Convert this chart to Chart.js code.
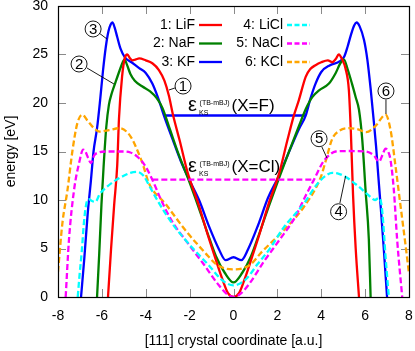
<!DOCTYPE html>
<html>
<head>
<meta charset="utf-8">
<script src="https://cdn.jsdelivr.net/npm/chart.js@4/dist/chart.umd.min.js"></script>
<style>
  html, body { margin: 0; padding: 0; background: #fff; }
  #wrap { width: 415px; height: 351px; }
</style>
</head>
<body>
<div id="wrap"><canvas id="chart" width="415" height="351"></canvas></div>
<script>
// series names, colours and line style
const seriesNames = ['1: LiF', '2: NaF', '3: KF', '4: LiCl', '5: NaCl', '6: KCl'];
const seriesColors = ['#ff0000', '#008000', '#0000ff', '#00ffff', '#ff00ff', '#ffa500'];
const seriesDashed = [false, false, false, true, true, true];

// band curves (x in a.u., y in eV)
const xLiF = [-5.72,-5.58,-5.44,-5.3,-5.22,-5.08,-4.96,-4.84,-4.72,-4.6,-4.45,-4.3,-4.0,-3.7,-3.4,-3.15,-2.95,-2.75,-2.45,-2.1,-1.6,-1.2,-0.8,-0.5,-0.25,0,0.25,0.5,0.8,1.2,1.6,2.1,2.45,2.75,2.98,3.29,3.5,3.74,4.0,4.3,4.5,4.65,4.8,4.95,5.1,5.26,5.35,5.45,5.57,5.72];
const yLiF = [0,5.0,9.5,13.6,18.4,22.7,24.6,25.0,24.6,24.4,24.5,24.6,24.4,24.1,23.4,22.3,20.8,18.7,16.1,12.9,9.6,6.6,3.8,1.8,0.4,0,0.4,1.8,3.8,6.6,9.6,12.9,16.1,18.7,20.3,22.7,23.5,23.9,24.2,24.4,24.2,24.5,25.0,24.5,23.6,21.3,17.0,10.5,5.0,0];

const xNaF = [-6.22,-6.12,-6.02,-5.92,-5.8,-5.68,-5.55,-5.37,-5.2,-5.05,-4.97,-4.85,-4.7,-4.5,-4.15,-3.8,-3.5,-3.24,-2.9,-2.5,-2.05,-1.6,-1.2,-0.8,-0.4,0,0.4,0.8,1.2,1.6,2.05,2.5,2.98,3.3,3.59,3.9,4.35,4.66,4.85,5.03,5.2,5.4,5.57,5.72,5.87,6.02,6.17,6.25];
const yNaF = [0,4.5,9.5,13.5,17.5,19.8,21.0,22.2,23.3,24.2,24.5,23.9,23.0,22.3,21.7,21.2,20.5,19.5,17.3,14.7,12.1,9.3,6.7,4.2,2.5,1.5,2.5,4.2,6.7,9.3,12.1,14.8,17.6,19.4,20.6,21.3,22.0,23.1,24.0,24.5,23.5,22.0,20.6,19.3,16.2,11.0,5.9,0];

const xKF = [-6.95,-6.8,-6.65,-6.5,-6.38,-6.22,-6.08,-5.95,-5.82,-5.7,-5.6,-5.52,-5.42,-5.3,-5.15,-4.95,-4.65,-4.3,-4.0,-3.7,-3.45,-3.3,-3.17,-2.8,-2.4,-2.0,-1.57,-1.12,-0.66,-0.36,0,0.36,0.66,1.12,1.57,2.05,2.5,2.98,3.29,3.5,3.74,4.0,4.4,4.85,5.05,5.2,5.35,5.5,5.61,5.75,5.95,6.1,6.25,6.4,6.5,6.6,6.72,6.85,7.0];
const yKF = [0,4.0,8.5,12.0,15.0,17.4,20.3,23.3,25.8,27.4,28.1,28.3,27.8,26.8,25.6,24.7,24.2,23.6,23.1,22.0,20.6,19.6,18.7,16.4,14.0,12.0,10.0,7.3,4.9,3.8,4.1,3.8,4.9,7.4,10.2,12.4,14.8,17.3,18.7,20.4,22.0,23.2,23.9,24.3,24.8,25.8,27.0,28.0,28.3,27.9,26.5,24.5,21.5,18.0,15.5,12.5,9.0,5.0,0];

const xLiCl = [-7.1,-7.02,-6.92,-6.82,-6.72,-6.6,-6.45,-6.3,-6.1,-5.8,-5.4,-5.0,-4.7,-4.4,-4.1,-3.8,-3.4,-2.8,-2.2,-1.6,-1.1,-0.6,-0.3,0,0.3,0.6,1.1,1.6,2.3,3.2,3.8,4.2,4.5,4.8,5.1,5.7,6.15,6.45,6.62,6.74,6.83,6.93,7.0,7.08];
const yLiCl = [0,2.2,4.6,7.6,9.5,10.1,9.9,9.8,10.6,11.3,12.0,12.5,12.8,12.9,12.5,11.3,9.7,7.6,5.9,4.4,3.2,1.9,1.4,1.2,1.4,1.9,3.4,4.8,7.2,9.6,11.6,12.5,12.8,12.7,12.4,11.4,10.5,10.0,10.2,9.6,7.5,4.2,2.2,0];

const xNaCl = [-7.65,-7.5,-7.27,-7.04,-6.85,-6.75,-6.62,-6.5,-6.35,-6.15,-5.8,-5.1,-4.7,-4.4,-4.05,-3.7,-3.3,-2.8,-2.1,-1.4,-0.7,-0.3,0,0.3,0.7,1.4,2.1,2.8,3.3,3.67,4.05,4.3,4.66,5.3,6.02,6.4,6.63,6.8,6.93,7.05,7.16,7.31,7.46,7.69];
const yNaCl = [0,5.9,11.0,13.8,15.2,15.0,14.3,13.8,14.6,14.9,15.0,15.0,14.9,14.5,13.6,12.1,10.0,7.8,5.6,3.5,1.3,0.3,0,0.3,1.3,3.7,5.9,8.2,10.5,12.1,13.8,14.5,15.0,15.05,15.0,14.6,13.95,14.7,15.3,15.0,14.1,11.0,5.9,0];

const xKCl = [-8.0,-7.8,-7.57,-7.34,-7.12,-6.89,-6.66,-6.36,-6.1,-5.67,-5.2,-4.85,-4.6,-4.38,-4.15,-3.85,-3.1,-2.2,-1.27,-0.8,-0.4,0,0.4,0.8,1.27,2.3,3.21,3.97,4.2,4.5,4.8,5.26,5.64,6.05,6.5,6.93,7.16,7.39,7.62,7.85,8.0];
const yKCl = [2.6,7.6,11.0,15.1,17.9,18.8,18.2,17.4,17.05,17.2,17.4,17.0,16.2,15.1,13.8,11.7,9.6,6.9,4.5,3.4,2.95,2.85,2.95,3.4,4.6,6.9,9.3,12.3,14.0,16.3,17.1,17.4,17.3,17.0,17.7,18.8,17.2,13.4,9.3,5.2,2.4];

// TB-mBJ levels (horizontal segments)
const levelFx = [-3.17, 3.29];
const levelFy = [18.7, 18.7];
const levelClx = [-3.7, 3.67];
const levelCly = [12.1, 12.1];

// axis ticks
const xTicks = [-8, -6, -4, -2, 0, 2, 4, 6, 8];
const yTicks = [0, 5, 10, 15, 20, 25, 30];

const curveX = [xLiF, xNaF, xKF, xLiCl, xNaCl, xKCl];
const curveY = [yLiF, yNaF, yKF, yLiCl, yNaCl, yKCl];

const FONT = '"Liberation Sans", Arial, sans-serif';
Chart.defaults.font.family = FONT;
Chart.defaults.font.size = 14;
Chart.defaults.color = '#000';

function toPoints(xs, ys) {
  return xs.map((x, i) => ({ x: x, y: ys[i] }));
}

const datasets = curveX.map((xs, i) => ({
  label: seriesNames[i],
  data: toPoints(xs, curveY[i]),
  borderColor: seriesColors[i],
  borderWidth: 2.3,
  borderDash: seriesDashed[i] ? [6, 3] : [],
  borderJoinStyle: 'round',
  pointRadius: 0,
  fill: false,
  cubicInterpolationMode: 'monotone',
  order: seriesDashed[i] ? 1 : 2
}));

datasets.push({
  label: 'X=F',
  data: toPoints(levelFx, levelFy),
  borderColor: '#0000ff',
  borderWidth: 2.5,
  pointRadius: 0,
  fill: false,
  order: 3
});
datasets.push({
  label: 'X=Cl',
  data: toPoints(levelClx, levelCly),
  borderColor: '#ff00ff',
  borderWidth: 2.3,
  borderDash: [6, 3],
  pointRadius: 0,
  fill: false,
  order: 0
});

// circled labels: number, centre (data coords), leader line from/to (data coords)
const circleMarks = [
  { n: '1', c: [-2.30, 21.75], from: [-2.67, 21.55], to: [-2.94, 21.34] },
  { n: '2', c: [-7.04, 24.02], from: [-6.68, 23.61], to: [-5.45, 21.96] },
  { n: '3', c: [-6.40, 27.63], from: [-6.13, 27.22], to: [-5.77, 26.6] },
  { n: '4', c: [4.79, 8.79], from: [4.85, 9.69], to: [5.11, 12.47] },
  { n: '5', c: [3.90, 16.32], from: [4.03, 15.46], to: [4.26, 14.33] },
  { n: '6', c: [6.95, 21.24], from: [6.95, 20.36], to: [6.95, 18.87] }
];

// epsilon labels: anchor (data coords of the epsilon baseline start)
const levelLabels = [
  { text: '(X=F)', at: [-2.07, 19.18] },
  { text: '(X=Cl)', at: [-2.07, 12.89] }
];

const decorations = {
  id: 'decorations',
  beforeDatasetsDraw(chart) {
    const { ctx, chartArea: a, scales: { x, y } } = chart;
    ctx.save();
    ctx.strokeStyle = '#8a8a8a';
    ctx.lineWidth = 1;
    ctx.beginPath();
    xTicks.forEach(v => {
      const px = Math.round(x.getPixelForValue(v)) + 0.5;
      ctx.moveTo(px, a.bottom); ctx.lineTo(px, a.bottom - 8);
      ctx.moveTo(px, a.top); ctx.lineTo(px, a.top + 8);
    });
    yTicks.forEach(v => {
      const py = Math.round(y.getPixelForValue(v)) + 0.5;
      ctx.moveTo(a.left, py); ctx.lineTo(a.left + 8, py);
      ctx.moveTo(a.right, py); ctx.lineTo(a.right - 8, py);
    });
    ctx.stroke();
    ctx.restore();
  },
  afterDatasetsDraw(chart) {
    const { ctx, chartArea: a, scales: { x, y } } = chart;
    const px = v => x.getPixelForValue(v);
    const py = v => y.getPixelForValue(v);
    ctx.save();

    // frame
    ctx.strokeStyle = '#000';
    ctx.lineWidth = 1.2;
    ctx.strokeRect(Math.round(a.left) + 0.5, Math.round(a.top) + 0.5,
      Math.round(a.right - a.left), Math.round(a.bottom - a.top));

    // legend, two columns of right aligned text with a line sample
    const colRight = [195, 283];
    const rowY = [25, 43.5, 62];
    ctx.font = '14px ' + FONT;
    ctx.textAlign = 'right';
    ctx.textBaseline = 'middle';
    seriesNames.forEach((name, i) => {
      const col = Math.floor(i / 3), row = i % 3;
      const tx = colRight[col];
      ctx.fillStyle = '#000';
      ctx.fillText(name, tx, rowY[row]);
      ctx.strokeStyle = seriesColors[i];
      ctx.lineWidth = 2.3;
      ctx.setLineDash(seriesDashed[i] ? [5, 2.5] : []);
      ctx.beginPath();
      ctx.moveTo(tx + 4, rowY[row]);
      ctx.lineTo(tx + 27, rowY[row]);
      ctx.stroke();
    });
    ctx.setLineDash([]);

    // circled numbers with leader lines
    ctx.textAlign = 'center';
    ctx.textBaseline = 'middle';
    circleMarks.forEach(m => {
      ctx.strokeStyle = '#000';
      ctx.lineWidth = 0.9;
      ctx.beginPath();
      ctx.moveTo(px(m.from[0]), py(m.from[1]));
      ctx.lineTo(px(m.to[0]), py(m.to[1]));
      ctx.stroke();
      ctx.fillStyle = '#fff';
      ctx.beginPath();
      ctx.arc(px(m.c[0]), py(m.c[1]), 8, 0, Math.PI * 2);
      ctx.fill();
      ctx.stroke();
      ctx.fillStyle = '#000';
      ctx.font = '15px ' + FONT;
      ctx.fillText(m.n, px(m.c[0]), py(m.c[1]) + 0.5);
    });

    // epsilon_KS^(TB-mBJ)(X=..) labels
    ctx.textAlign = 'left';
    ctx.textBaseline = 'alphabetic';
    levelLabels.forEach(l => {
      const bx = px(l.at[0]), by = py(l.at[1]);
      ctx.fillStyle = '#000';
      ctx.font = '20px ' + FONT;
      ctx.fillText('\u03b5', bx, by);
      ctx.font = '7px ' + FONT;
      ctx.fillText('(TB-mBJ)', bx + 11.5, by - 6);
      ctx.fillText('KS', bx + 11, by + 4);
      ctx.font = '17px ' + FONT;
      ctx.fillText(l.text, bx + 43.5, by);
    });
    ctx.restore();
  }
};

new Chart(document.getElementById('chart'), {
  type: 'line',
  data: { datasets: datasets },
  plugins: [decorations],
  options: {
    responsive: false,
    animation: false,
    layout: { padding: { top: 6, right: 6, left: 0, bottom: 0 } },
    plugins: { legend: { display: false }, tooltip: { enabled: false } },
    scales: {
      x: {
        type: 'linear',
        min: -8, max: 8,
        afterBuildTicks: s => { s.ticks = xTicks.map(v => ({ value: v })); },
        afterFit: s => { s.height = 54; s.paddingLeft = 0; s.paddingRight = 0; },
        grid: { display: false, drawTicks: false },
        border: { display: false },
        ticks: { padding: 11, maxRotation: 0, autoSkip: false, callback: v => String(v) },
        title: { display: true, text: '[111] crystal coordinate [a.u.]', padding: { top: 0, bottom: 1 } }
      },
      y: {
        type: 'linear',
        min: 0, max: 30,
        afterBuildTicks: s => { s.ticks = yTicks.map(v => ({ value: v })); },
        afterFit: s => { s.width = 58; s.paddingTop = 0; s.paddingBottom = 0; },
        grid: { display: false, drawTicks: false },
        border: { display: false },
        ticks: { padding: 10, autoSkip: false, callback: v => String(v) },
        title: { display: true, text: 'energy [eV]', padding: { top: 3, bottom: 0 } }
      }
    }
  }
});
</script>
</body>
</html>
